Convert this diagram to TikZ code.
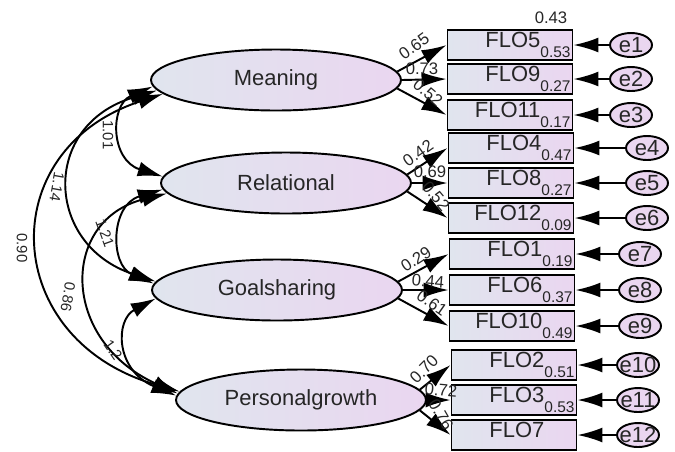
\documentclass[tikz,border=0pt]{standalone}
\usepackage{fontspec}
\setmainfont{Liberation Sans}
\usetikzlibrary{arrows.meta,shapes.geometric}

\definecolor{coolgray}{HTML}{E0E5EE}
\definecolor{lilac}{HTML}{EAD6F0}
\definecolor{inkgray}{HTML}{262626}

\newcommand{\rsq}[1]{\raisebox{-0.2cm}{\fontsize{8.8}{9}\selectfont #1}}
\newcommand{\errtxt}[1]{\makebox[0pt]{#1}}

\begin{document}
\begin{tikzpicture}[x=0.02cm,y=-0.02cm]
    \tikzset{
        latent var/.style={ellipse, draw=black, line width=1.1pt, left color=coolgray, right color=lilac,
            minimum width=5cm, minimum height=1.22cm, text=inkgray, font=\fontsize{12.5}{14}\selectfont},
        observed var/.style={rectangle, draw=black, line width=1.1pt, left color=coolgray, right color=lilac,
            minimum height=0.6cm, text width=2.42cm, inner xsep=0.04cm, inner ysep=0pt, align=right,
            text=inkgray, font=\fontsize{12.5}{14}\selectfont},
        error var/.style={ellipse, draw=black, line width=1.1pt, fill=lilac, minimum width=0.84cm,
            minimum height=0.48cm, inner sep=0pt, text=inkgray, font=\fontsize{12.5}{14}\selectfont},
        path arrow/.style={draw=black, line width=1.1pt, -{Latex[length=0.5cm,width=0.3cm]}},
        cov arrow/.style={draw=black, line width=1.1pt,
            {Latex[length=0.5cm,width=0.3cm]}-{Latex[length=0.5cm,width=0.3cm]}},
        load label/.style={text=inkgray, font=\fontsize{9.5}{10}\selectfont, inner sep=0pt},
        cov label/.style={text=inkgray, font=\fontsize{8.5}{9}\selectfont, inner sep=0pt}
    }
    \useasboundingbox (0,0) rectangle (675,451);

    % factors
    \node[latent var] (meaning) at (276,80) {Meaning};
    \node[latent var] (relational) at (286,183) {Relational};
    \node[latent var] (goalsharing) at (277,290) {Goalsharing};
    \node[latent var] (growth) at (301,400) {Personalgrowth};

    % items
    \node[observed var] (flo5) at (510,45) {FLO5\rsq{0.53}};
    \node[observed var] (flo9) at (510,79) {FLO9\rsq{0.27}};
    \node[observed var] (flo11) at (510,115) {FLO11\rsq{0.17}};
    \node[observed var] (flo4) at (511,148) {FLO4\rsq{0.47}};
    \node[observed var] (flo8) at (511,183) {FLO8\rsq{0.27}};
    \node[observed var] (flo12) at (511,218) {FLO12\rsq{0.09}};
    \node[observed var] (flo1) at (512,254) {FLO1\rsq{0.19}};
    \node[observed var] (flo6) at (512,290) {FLO6\rsq{0.37}};
    \node[observed var] (flo10) at (512,326) {FLO10\rsq{0.49}};
    \node[observed var] (flo2) at (514,365) {FLO2\rsq{0.51}};
    \node[observed var] (flo3) at (514,400) {FLO3\rsq{0.53}};
    \node[observed var] (flo7) at (514,435) {FLO7\phantom{\rsq{0.00}}};
    \node[load label] (r43) at (551,18) {0.43};

    % errors
    \node[error var] (e1) at (631,45) {\errtxt{e1}};
    \node[error var] (e2) at (631,79) {\errtxt{e2}};
    \node[error var] (e3) at (631,115) {\errtxt{e3}};
    \node[error var] (e4) at (647,148) {\errtxt{e4}};
    \node[error var] (e5) at (647,183) {\errtxt{e5}};
    \node[error var] (e6) at (647,218) {\errtxt{e6}};
    \node[error var] (e7) at (640,254) {\errtxt{e7}};
    \node[error var] (e8) at (640,290) {\errtxt{e8}};
    \node[error var] (e9) at (640,326) {\errtxt{e9}};
    \node[error var] (e10) at (638,365) {\errtxt{e10}};
    \node[error var] (e11) at (638,400) {\errtxt{e11}};
    \node[error var] (e12) at (638,435) {\errtxt{e12}};

    \draw[path arrow] (e1) -- (flo5.east);
    \draw[path arrow] (e2) -- (flo9.east);
    \draw[path arrow] (e3) -- (flo11.east);
    \draw[path arrow] (e4) -- (flo4.east);
    \draw[path arrow] (e5) -- (flo8.east);
    \draw[path arrow] (e6) -- (flo12.east);
    \draw[path arrow] (e7) -- (flo1.east);
    \draw[path arrow] (e8) -- (flo6.east);
    \draw[path arrow] (e9) -- (flo10.east);
    \draw[path arrow] (e10) -- (flo2.east);
    \draw[path arrow] (e11) -- (flo3.east);
    \draw[path arrow] (e12) -- (flo7.east);

    % loadings
    \draw[path arrow] (meaning.4) -- (flo5.west);
    \draw[path arrow] (meaning.east) -- (flo9.west);
    \draw[path arrow] (meaning.-4) -- (flo11.west);
    \draw[path arrow] (relational.4) -- (flo4.west);
    \draw[path arrow] (relational.east) -- (flo8.west);
    \draw[path arrow] (relational.-4) -- (flo12.west);
    \draw[path arrow] (goalsharing.4) -- (flo1.west);
    \draw[path arrow] (goalsharing.east) -- (flo6.west);
    \draw[path arrow] (goalsharing.-4) -- (flo10.west);
    \draw[path arrow] (growth.5) -- (flo2.west);
    \draw[path arrow] (growth.east) -- (flo3.west);
    \draw[path arrow] (growth.-5) -- (flo7.west);

    \node[load label, rotate=36] (l65) at (414,46) {0.65};
    \node[load label] (l73) at (422,69) {0.73};
    \node[load label, rotate=-40] (l52a) at (428,93) {0.52};
    \node[load label, rotate=35] (l42) at (418,153) {0.42};
    \node[load label] (l69) at (430,172) {0.69};
    \node[load label, rotate=-50] (l52b) at (436,196) {0.52};
    \node[load label, rotate=33] (l29) at (416,259) {0.29};
    \node[load label, rotate=-5] (l44) at (428,281) {0.44};
    \node[load label, rotate=-35] (l61) at (432,303) {0.61};
    \node[load label, rotate=45] (l70) at (424,369) {0.70};
    \node[load label, rotate=-5] (l72) at (441,390) {0.72};
    \node[load label, rotate=-60] (l76) at (441,415) {0.76};

    % covariances
    \draw[cov arrow] (meaning.183) .. controls (110,105) and (110,160) .. (relational.177);
    \draw[cov arrow] (meaning.185) .. controls (40,125) and (45,245) .. (goalsharing.176);
    \draw[cov arrow] (meaning.187) .. controls (-8,150) and (0,340) .. (growth.176);
    \draw[cov arrow] (relational.183) .. controls (110,205) and (110,265) .. (goalsharing.177);
    \draw[cov arrow] (relational.185) .. controls (60,220) and (60,340) .. (growth.177);
    \draw[cov arrow] (goalsharing.184) .. controls (115,320) and (115,370) .. (growth.178);

    \node[cov label, rotate=-90] (c101) at (108,135) {1.01};
    \node[cov label, rotate=-100] (c114) at (57,187) {1.14};
    \node[cov label, rotate=-90] (c090) at (22,248) {0.90};
    \node[cov label, rotate=-70] (c121) at (105,233) {1.21};
    \node[cov label, rotate=-100] (c086) at (68,297) {0.86};
    \node[cov label, rotate=-55] (c12) at (113,350) {1.2};
\end{tikzpicture}
\end{document}
